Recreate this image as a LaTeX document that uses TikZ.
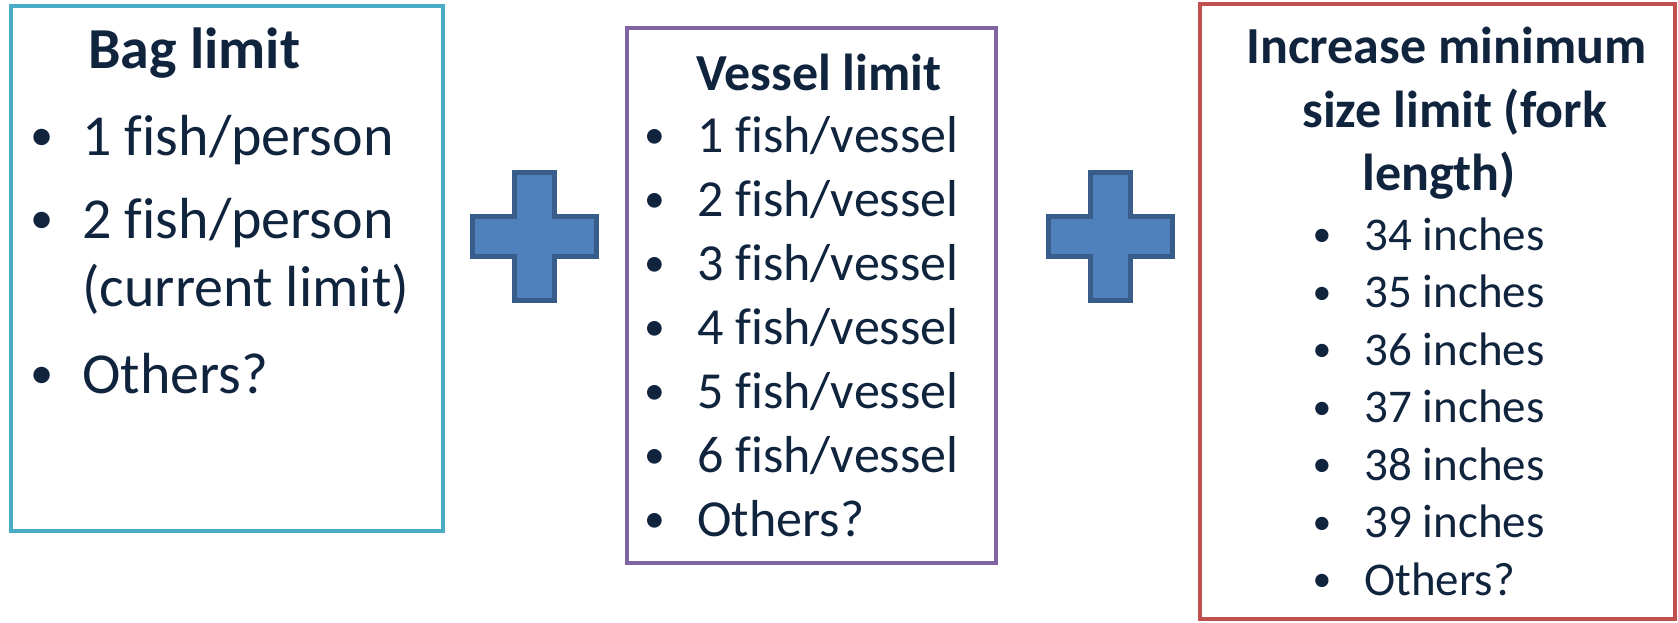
\documentclass[tikz,border=0pt]{standalone}
\usepackage{fontspec}
\setmainfont[Ligatures=NoCommon]{Carlito}
\usetikzlibrary{fit}
\definecolor{txtnavy}{HTML}{10243E}
\definecolor{bagblue}{HTML}{4BACC6}
\definecolor{vesselpurple}{HTML}{8064A2}
\definecolor{sizered}{HTML}{C0504D}
\definecolor{plusfill}{HTML}{4F81BD}
\definecolor{plusline}{HTML}{385D8A}
\newcommand{\txtSize}[1]{\fontsize{#1}{#1}\selectfont}
\newcommand{\dotMark}{\raisebox{0.07em}{\scalebox{0.8}{\textbullet}}}

\begin{document}
\begin{tikzpicture}[x=0.5pt, y=-0.5pt]
  \tikzset{
    entry/.style={text=txtnavy, inner sep=0pt, anchor=base west},
    dot/.style={text=txtnavy, inner sep=0pt, anchor=base},
    plussign/.pic={
      \draw[fill=plusfill, draw=plusline, line width=2.5pt]
        (-20,-64) -- (20,-64) -- (20,-20) -- (62,-20) -- (62,20) -- (20,20)
        -- (20,64) -- (-20,64) -- (-20,20) -- (-62,20) -- (-62,-20) -- (-20,-20) -- cycle;
    }
  }
  \useasboundingbox (0,0) rectangle (1678,622);

  % the three boxes
  \node[draw=bagblue, line width=2pt, inner sep=0pt, fit={(11,6) (443,531)}] (bagbox) {};
  \node[draw=vesselpurple, line width=2pt, inner sep=0pt, fit={(627,28) (996,563)}] (vesselbox) {};
  \node[draw=sizered, line width=2pt, inner sep=0pt, fit={(1200,4) (1675,619)}] (sizebox) {};

  % bag limit
  \node[entry, font=\txtSize{29}\bfseries] (bagtitle) at (88,68) {Bag limit};
  \node[dot, font=\txtSize{29}] (bagdot1) at (42,155) {\dotMark};
  \node[entry, font=\txtSize{29}] (bag1) at (82,155) {1 fish/person};
  \node[dot, font=\txtSize{29}] (bagdot2) at (42,238) {\dotMark};
  \node[entry, font=\txtSize{29}] (bag2) at (82,238) {2 fish/person};
  \node[entry, font=\txtSize{29}] (bag2b) at (82,306) {(current limit)};
  \node[dot, font=\txtSize{29}] (bagdot3) at (42,393) {\dotMark};
  \node[entry, font=\txtSize{29}] (bag3) at (82,393) {Others?};

  % vessel limit
  \node[entry, font=\txtSize{26}\bfseries] (vesseltitle) at (696,90) {Vessel limit};
  \foreach \t [count=\i] in {1 fish/vessel, 2 fish/vessel, 3 fish/vessel,
      4 fish/vessel, 5 fish/vessel, 6 fish/vessel, Others?} {
    \node[dot, font=\txtSize{26}] (vesseldot\i) at (655,88+64*\i) {\dotMark};
    \node[entry, font=\txtSize{26}] (vessel\i) at (697,88+64*\i) {\t};
  }

  % minimum size limit
  \node[entry, font=\txtSize{26}\bfseries] (sizetitle1) at (1246,63) {Increase minimum};
  \node[entry, font=\txtSize{26}\bfseries] (sizetitle2) at (1302,127) {size limit (fork};
  \node[entry, font=\txtSize{26}\bfseries] (sizetitle3) at (1362,190) {length)};
  \foreach \t [count=\i] in {34 inches, 35 inches, 36 inches, 37 inches,
      38 inches, 39 inches, Others?} {
    \node[dot, font=\txtSize{23.5}] (sizedot\i) at (1322,192.5+57.5*\i) {\dotMark};
    \node[entry, font=\txtSize{23.5}] (size\i) at (1364,192.5+57.5*\i) {\t};
  }

  % plus signs
  \pic at (534.5,236.5) {plussign};
  \pic at (1110,236.5) {plussign};
\end{tikzpicture}
\end{document}
